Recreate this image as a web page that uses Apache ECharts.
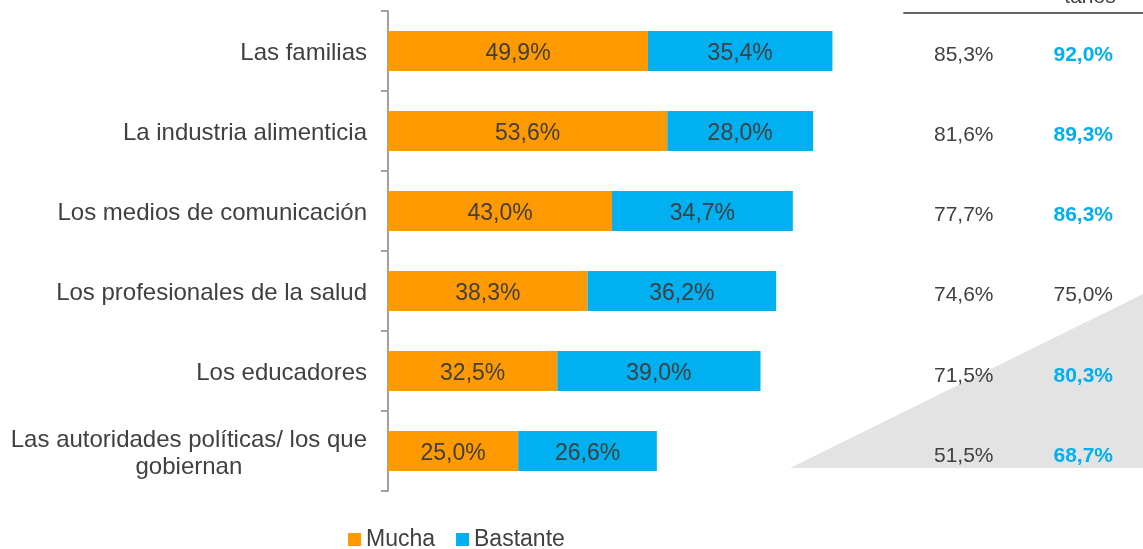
<!DOCTYPE html>
<html>
<head>
<meta charset="utf-8">
<script src="https://cdn.jsdelivr.net/npm/echarts@6/dist/echarts.min.js"></script>
<style>
  html, body { margin: 0; padding: 0; background: #fff; }
  #chart { width: 1143px; height: 549px; }
</style>
</head>
<body>
<div id="chart"></div>
<script>
const categories = [
  'Las familias',
  'La industria alimenticia',
  'Los medios de comunicación',
  'Los profesionales de la salud',
  'Los educadores',
  'Las autoridades políticas/ los que\ngobiernan'
]
const mucha = [49.9, 53.6, 43.0, 38.3, 32.5, 25.0]
const bastante = [35.4, 28.0, 34.7, 36.2, 39.0, 26.6]
// columnas de la derecha
const totalActual = [85.3, 81.6, 77.7, 74.6, 71.5, 51.5]
const totalAnterior = [92.0, 89.3, 86.3, 75.0, 80.3, 68.7]
const destacado = [true, true, true, false, true, true]
const columnas = ['actual', 'anterior']

const FONT = '"Liberation Sans", Arial, sans-serif'
const fmt = v => v.toFixed(1).replace('.', ',') + '%'

const tableData = []
totalActual.forEach((v, i) => {
  tableData.push({ value: [0, i, v], label: { color: '#404040', fontWeight: 'normal' } })
})
totalAnterior.forEach((v, i) => {
  tableData.push({
    value: [1, i, v],
    label: destacado[i] ? { color: '#00b0f0', fontWeight: 'bold' } : { color: '#404040', fontWeight: 'normal' }
  })
})

const chart = echarts.init(document.getElementById('chart'))

const barLabel = {
  show: true, position: 'inside', color: '#404040', fontSize: 23, fontFamily: FONT,
  offset: [0, 3], formatter: p => fmt(p.value)
}

chart.setOption({
  animation: false,
  textStyle: { fontFamily: FONT },
  graphic: [
    {
      type: 'polygon',
      z: -10,
      shape: { points: [[790, 468], [1143, 468], [1143, 294]] },
      style: { fill: '#e3e3e3' }
    },
    {
      type: 'text',
      x: 1090, y: 8,
      style: {
        text: 'tanos', fill: '#404040', font: '21px ' + FONT,
        textAlign: 'center', textVerticalAlign: 'bottom'
      }
    }
  ],
  legend: {
    data: ['Mucha', 'Bastante'],
    left: 348,
    top: 528,
    padding: 0,
    itemWidth: 13,
    itemHeight: 13,
    itemGap: 21,
    icon: 'rect',
    textStyle: { fontSize: 23, color: '#404040', fontFamily: FONT, padding: [3, 0, 0, 0] }
  },
  grid: [
    { left: 388, top: 11, width: 521, height: 480 },
    { left: 904, top: 15, width: 248, height: 481 }
  ],
  xAxis: [
    { type: 'value', gridIndex: 0, min: 0, max: 100, show: false },
    {
      type: 'category', gridIndex: 1, data: columnas, position: 'top', offset: 2,
      axisLine: { show: true, lineStyle: { color: '#666', width: 2 } },
      axisTick: { show: false },
      axisLabel: { show: false }
    }
  ],
  yAxis: [
    {
      type: 'category', gridIndex: 0, data: categories, inverse: true,
      axisLine: { lineStyle: { color: '#a0a0a0', width: 2 } },
      axisTick: { show: true, length: 7, lineStyle: { color: '#a0a0a0', width: 2 } },
      axisLabel: {
        margin: 21,
        color: '#404040',
        fontSize: 24,
        lineHeight: 27,
        fontFamily: FONT,
        padding: [5, 0, 0, 0],
        formatter: v => v.split('\n').map(s => '{c|' + s + '}').join('\n'),
        rich: { c: { align: 'center', fontSize: 24, lineHeight: 27, color: '#404040', fontFamily: FONT } }
      }
    },
    {
      type: 'category', gridIndex: 1, data: categories, inverse: true, show: false
    }
  ],
  series: [
    {
      name: 'Mucha', type: 'bar', stack: 'total', xAxisIndex: 0, yAxisIndex: 0,
      barWidth: 40,
      itemStyle: { color: '#ff9900' },
      label: barLabel,
      data: mucha
    },
    {
      name: 'Bastante', type: 'bar', stack: 'total', xAxisIndex: 0, yAxisIndex: 0,
      barWidth: 40,
      itemStyle: { color: '#00b0f0' },
      label: barLabel,
      data: bastante
    },
    {
      name: 'tabla', type: 'scatter', xAxisIndex: 1, yAxisIndex: 1,
      symbolSize: 1,
      itemStyle: { color: '#fff', opacity: 1 },
      label: { show: true, position: 'inside', fontSize: 21, fontFamily: FONT, opacity: 1, formatter: p => fmt(p.value[2]) },
      emphasis: { disabled: true },
      data: tableData
    }
  ]
})
</script>
</body>
</html>
